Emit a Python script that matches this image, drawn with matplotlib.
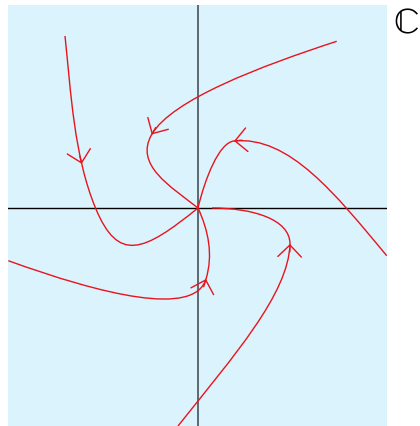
import numpy as np
import matplotlib
matplotlib.use('Agg')
import matplotlib.pyplot as plt
from matplotlib.path import Path
from matplotlib.patches import PathPatch, FancyArrowPatch

# flow lines as cubic bezier chains: start point, then (ctrl, ctrl, end) per segment
flow_a = [(-133, 172), (-127, 115), (-124, 52), (-102.5, 0),
          (-79.7, -55.2), (-54.6, -44.1), (0, 0)]
flow_b = [(138.7, 166.7), (62.7, 141.9), (-26.3, 108.3), (-46.3, 73.5),
          (-63.8, 43), (-27.7, 21.7), (0, 0)]
flow_c = [(188.7, -47.7), (137.5, 13.9), (91, 72.5), (36, 67),
          (21, 65.5), (6.9, 29.1), (0, 0)]
flow_d = [(-189.7, -52.7), (-95.7, -86.7), (-3.6, -109.4), (8, -71),
          (15.3, -47), (10.5, -22.8), (0, 0)]
flow_e = [(-20, -218), (35.8, -147.8), (90.5, -86), (92, -36),
          (92, -11), (54, 0), (14, 0)]
flows = [flow_a, flow_b, flow_c, flow_d, flow_e]

# arrowhead on each flow line: (segment index, bezier parameter)
arrow_pos = [(0, 0.73), (0, 1.0), (0, 1.0), (0, 1.0), (0, 1.0)]

x_range = (-189.7, 188.7)
y_range = (-218, 203)

red = '#e8141c'


def bezier(p, t):
    p0, p1, p2, p3 = [np.array(q, dtype=float) for q in p]
    pt = (1-t)**3*p0 + 3*(1-t)**2*t*p1 + 3*(1-t)*t**2*p2 + t**3*p3
    d = 3*(1-t)**2*(p1-p0) + 6*(1-t)*t*(p2-p1) + 3*t**2*(p3-p2)
    return pt, d / np.hypot(*d)


fig = plt.figure(figsize=(4.2, 4.27), dpi=100)
ax = fig.add_axes([8.3/420, 0, 378.4/420, 421/427])
ax.set_facecolor('#dbf3fd')
ax.set_xlim(*x_range)
ax.set_ylim(*y_range)
ax.set_xticks([])
ax.set_yticks([])
for s in ax.spines.values():
    s.set_visible(False)

ax.axhline(0, color='black', lw=1.0, zorder=1)
ax.axvline(0, color='#3a4449', lw=1.1, zorder=1)

for pts, (seg, t) in zip(flows, arrow_pos):
    nseg = (len(pts) - 1) // 3
    codes = [Path.MOVETO] + [Path.CURVE4] * (3 * nseg)
    ax.add_patch(PathPatch(Path(pts, codes), fill=False, edgecolor=red,
                           lw=1.0, zorder=2))
    tip, direc = bezier(pts[3*seg:3*seg+4], t)
    ax.add_patch(FancyArrowPatch(tip - 8*direc, tip,
                                 arrowstyle='->,head_length=8.5,head_width=8.5',
                                 mutation_scale=1, shrinkA=0, shrinkB=0,
                                 color=red, lw=1.0, zorder=2))

fig.text(393/420, 1 - 25/427, '\u2102', family='STIXGeneral', fontsize=26,
         ha='left', va='center')

fig.savefig('out.png', dpi=100)
